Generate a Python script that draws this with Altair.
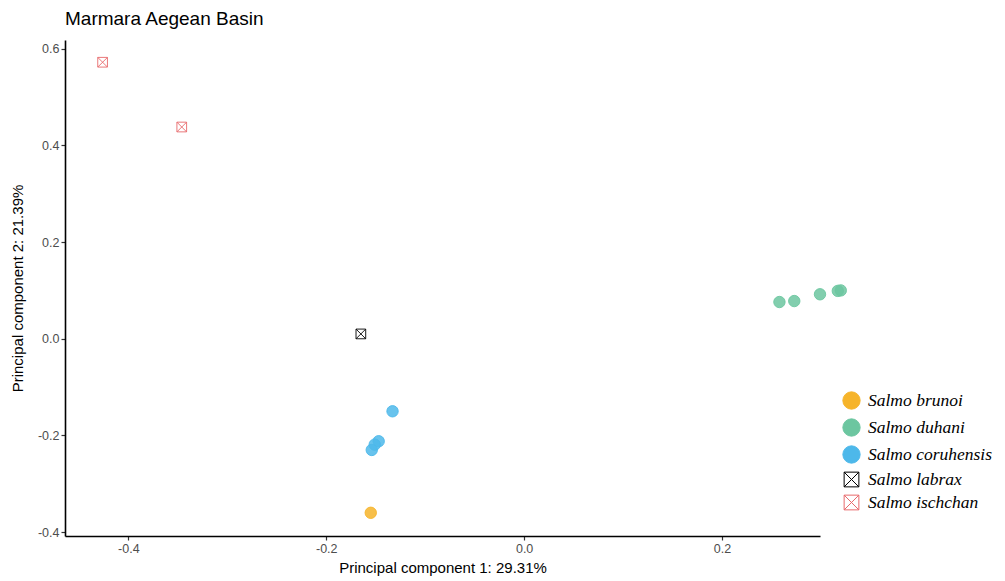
import altair as alt
import pandas as pd

species = ["Salmo ischchan", "Salmo ischchan",
           "Salmo labrax",
           "Salmo coruhensis", "Salmo coruhensis", "Salmo coruhensis", "Salmo coruhensis",
           "Salmo brunoi",
           "Salmo duhani", "Salmo duhani", "Salmo duhani", "Salmo duhani", "Salmo duhani"]
pc1 = [-0.426, -0.346,
       -0.165,
       -0.133, -0.147, -0.151, -0.154,
       -0.155,
       0.258, 0.273, 0.299, 0.317, 0.320]
pc2 = [0.572, 0.438,
       0.010,
       -0.150, -0.212, -0.219, -0.230,
       -0.360,
       0.076, 0.078, 0.092, 0.099, 0.100]

order = ["Salmo brunoi", "Salmo duhani", "Salmo coruhensis", "Salmo labrax", "Salmo ischchan"]
stroke_colors = ["#F6B42A", "#6CC6A0", "#4DB8EA", "#000000", "#E8696C"]
fill_colors = ["#F6B42A", "#6CC6A0", "#4DB8EA", "transparent", "transparent"]
xsq = "M-0.85,-0.85L0.85,-0.85L0.85,0.85L-0.85,0.85Z M-0.85,-0.85L0.85,0.85 M0.85,-0.85L-0.85,0.85"
shapes = ["circle", "circle", "circle", xsq, xsq]

df = pd.DataFrame({"species": species, "pc1": pc1, "pc2": pc2})

neg_fmt = "datum.value < 0 ? '-' + format(-datum.value, '.1f') : format(datum.value, '.1f')"

chart = alt.Chart(df).mark_point(filled=False, size=130, strokeWidth=1, fillOpacity=0.85, strokeOpacity=0.9).encode(
    x=alt.X("pc1:Q", title="Principal component 1: 29.31%",
            scale=alt.Scale(domain=[-0.464, 0.299], nice=False, zero=False),
            axis=alt.Axis(values=[-0.4, -0.2, 0.0, 0.2], labelExpr=neg_fmt, titlePadding=6)),
    y=alt.Y("pc2:Q", title="Principal component 2: 21.39%",
            scale=alt.Scale(domain=[-0.408, 0.618], nice=False, zero=False),
            axis=alt.Axis(values=[-0.4, -0.2, 0.0, 0.2, 0.4, 0.6], labelExpr=neg_fmt, titlePadding=12)),
    color=alt.Color("species:N", scale=alt.Scale(domain=order, range=stroke_colors),
                    legend=alt.Legend(title=None, orient="none", legendX=777, legendY=351,
                                      symbolSize=300, labelFont="Liberation Serif",
                                      labelFontStyle="italic", labelFontSize=17.5,
                                      labelColor="#000000", labelOffset=7, rowPadding=4,
                                      labelLimit=300,
                                      symbolStrokeWidth=1, symbolOpacity=1, padding=0)),
    fill=alt.Fill("species:N", scale=alt.Scale(domain=order, range=fill_colors), legend=None),
    shape=alt.Shape("species:N", scale=alt.Scale(domain=order, range=shapes), legend=None),
).properties(
    width=755, height=496,
    title=alt.TitleParams("Marmara Aegean Basin", anchor="start", frame="group",
                          font="Liberation Sans", fontSize=19, fontWeight="normal",
                          color="#000000", offset=11),
    autosize=alt.AutoSizeParams(type="none"),
    padding={"left": 57, "top": 32, "right": 177, "bottom": 48},
).configure_view(stroke=None).configure_axis(
    grid=False, domainColor="#000000", domainWidth=1.6, tickColor="#333333", tickSize=4,
    tickWidth=1.2, labelColor="#4D4D4D", labelFont="Liberation Sans", labelFontSize=12.5,
    titleFont="Liberation Sans", titleFontSize=15, titleFontWeight="normal", titleColor="#000000",
    labelPadding=2,
)

chart.save("out.html", embed_options={"renderer": "svg", "actions": False})
